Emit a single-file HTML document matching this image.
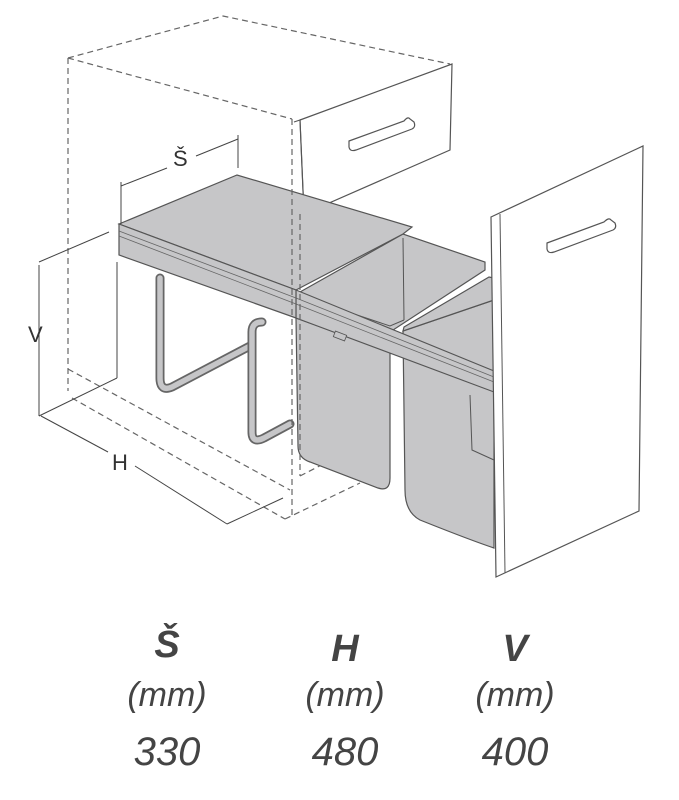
<!DOCTYPE html>
<html><head><meta charset="utf-8"><style>
html,body{margin:0;padding:0;background:#fff;width:679px;height:800px;overflow:hidden}
svg{position:absolute;left:0;top:0}
.t{position:absolute;font-family:"Liberation Sans",sans-serif;font-style:italic;color:#444;text-align:center;width:160px}
</style></head><body>
<svg width="679" height="800" viewBox="0 0 679 800">
<g fill="none" stroke="#666" stroke-width="1.2" stroke-dasharray="6,4">
<polyline points="68,58 223,16 450,64"/>
<line x1="68" y1="58" x2="292" y2="119"/>
<line x1="68" y1="58" x2="68" y2="391"/>
<line x1="68" y1="369" x2="290" y2="490"/>
<line x1="72" y1="398" x2="285" y2="519"/>
<line x1="285" y1="519" x2="360" y2="483"/>
<line x1="300" y1="476" x2="335" y2="458"/>
</g>
<!-- drawer -->
<polygon points="300,120 452,64 450,150 304,214" fill="#fff" stroke="#555" stroke-width="1.2"/>
<polyline points="294,122 300,120 304,214" fill="none" stroke="#555" stroke-width="1.1"/>
<path d="M349,141 L404,121 Q408,116 410,119 L414,122 Q416,127 412,129 L356,150 Q350,152 349,147 Z" fill="#fff" stroke="#555" stroke-width="1.2"/>
<!-- legs -->
<g fill="none" stroke-linecap="round" stroke-linejoin="round">
<path d="M160,278 L160,378 Q160,392 172,387 L250,346" stroke="#666" stroke-width="9"/>
<path d="M160,278 L160,378 Q160,392 172,387 L250,346" stroke="#c6c6c8" stroke-width="5.5"/>
<path d="M262,322 Q252,322 252,332 L252,432 Q252,444 264,438 L290,424" stroke="#666" stroke-width="9"/>
<path d="M262,322 Q252,322 252,332 L252,432 Q252,444 264,438 L290,424" stroke="#c6c6c8" stroke-width="5.5"/>
</g>
<!-- left bin -->
<path d="M296,318 L390,352 L390,478 Q390,492 378,488 L310,462 Q298,458 298,446 Z" fill="#c6c6c8" stroke="#555" stroke-width="1.2"/>
<!-- right bin -->
<path d="M403,331 L494,300 L494,548 Q470,540 420,520 Q405,512 405,490 Z" fill="#c6c6c8" stroke="#555" stroke-width="1.2"/>
<polyline points="470,395 472,450 494,460" fill="none" stroke="#555" stroke-width="1"/>
<!-- left bin opening -->
<polygon points="300,292 403,234 485,262 485,270 390,332 300,300" fill="#c6c6c8" stroke="#555" stroke-width="1.2"/>
<line x1="403" y1="238" x2="404" y2="320" stroke="#555" stroke-width="1"/>
<polyline points="404,320 390,326 300,296" fill="none" stroke="#555" stroke-width="1"/>
<!-- right bin opening -->
<polygon points="403,331 404,327 489,277 494,278 494,300" fill="#c6c6c8" stroke="#555" stroke-width="1.2"/>
<!-- rail -->
<polygon points="296,290 494,371 494,392 296,318" fill="#c6c6c8" stroke="#555" stroke-width="1.1"/>
<line x1="296" y1="298" x2="494" y2="377" stroke="#666" stroke-width="0.8"/>
<line x1="296" y1="304" x2="494" y2="382" stroke="#666" stroke-width="0.8"/>
<rect x="334" y="333" width="12" height="6" fill="#c6c6c8" stroke="#555" stroke-width="0.8" transform="rotate(21 340 336)"/>
<!-- lid -->
<polygon points="119,224 237,175 412,227 403,234 296,290" fill="#c6c6c8" stroke="#555" stroke-width="1.2"/>
<polygon points="119,224 296,290 296,318 119,255" fill="#c6c6c8" stroke="#555" stroke-width="1.2"/>
<line x1="119" y1="231" x2="296" y2="298" stroke="#666" stroke-width="0.8"/>
<line x1="119" y1="236" x2="296" y2="304" stroke="#666" stroke-width="0.8"/>
<!-- dashed lines over -->
<g fill="none" stroke="#666" stroke-width="1.2" stroke-dasharray="6,4">
<line x1="292" y1="119" x2="292" y2="519"/>
<line x1="300" y1="214" x2="300" y2="476"/>
</g>
<!-- door -->
<polygon points="491,217 643,146 639,511 496,577" fill="#fff" stroke="#555" stroke-width="1.2"/>
<line x1="500" y1="214" x2="505" y2="573" stroke="#555" stroke-width="1"/>
<path d="M547,243 L604,222 Q609,217 611,220 L615,223 Q617,228 613,230 L554,252 Q548,254 547,249 Z" fill="#fff" stroke="#555" stroke-width="1.2"/>
<!-- dimensions -->
<g stroke="#444" stroke-width="1" fill="none">
<line x1="121" y1="186" x2="167" y2="168"/>
<line x1="196" y1="156" x2="238" y2="139"/>
<line x1="121" y1="182" x2="121" y2="224"/>
<line x1="238" y1="135" x2="238" y2="168"/>
<line x1="39" y1="265" x2="39" y2="416"/>
<line x1="39" y1="262" x2="109" y2="232"/>
<line x1="117" y1="262" x2="117" y2="378"/>
<line x1="39" y1="416" x2="117" y2="378"/>
<line x1="41" y1="416" x2="108" y2="452"/>
<line x1="135" y1="466" x2="227" y2="524"/>
<line x1="227" y1="524" x2="283" y2="498"/>
</g>
</svg>
<div style="position:absolute;left:28px;top:322px;font:22px 'Liberation Sans',sans-serif;color:#333">V</div>
<div style="position:absolute;left:112px;top:450px;font:22px 'Liberation Sans',sans-serif;color:#333">H</div>
<div style="position:absolute;left:173px;top:146px;font:22px 'Liberation Sans',sans-serif;color:#333">Š</div>
<div class="t" style="left:87px;top:624px;font-size:38px;font-weight:bold">Š</div>
<div class="t" style="left:265px;top:628px;font-size:38px;font-weight:bold">H</div>
<div class="t" style="left:435px;top:628px;font-size:38px;font-weight:bold">V</div>
<div class="t" style="left:87px;top:676px;font-size:34px">(mm)</div>
<div class="t" style="left:265px;top:676px;font-size:34px">(mm)</div>
<div class="t" style="left:435px;top:676px;font-size:34px">(mm)</div>
<div class="t" style="left:87px;top:730px;font-size:40px">330</div>
<div class="t" style="left:265px;top:730px;font-size:40px">480</div>
<div class="t" style="left:435px;top:730px;font-size:40px">400</div>
</body></html>
